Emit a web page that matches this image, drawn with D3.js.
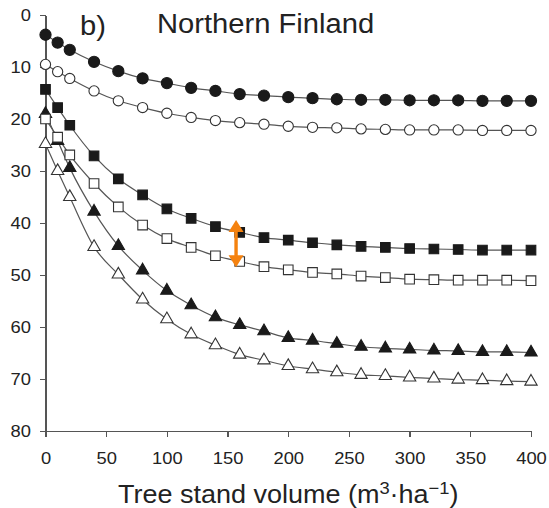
<!DOCTYPE html>
<html lang="en">
<head>
    <meta charset="UTF-8">
    <title>Northern Finland</title>
    <style>
        body {
            margin: 0;
            background: #fff;
            font-family: "Liberation Sans", Arial, sans-serif;
        }
        .axis path,
        .axis line {
            stroke: #555;
            stroke-width: 1.3;
            shape-rendering: crispEdges;
        }
        .axis text {
            fill: #222;
            font-size: 17px;
            font-family: "Liberation Sans", Arial, sans-serif;
        }
        .curve {
            fill: none;
            stroke: #555;
            stroke-width: 1.2;
        }
    </style>
</head>
<body>
    <svg id="chart" width="549" height="508"></svg>

    <script src="https://d3js.org/d3.v7.min.js"></script>
    <script>
        // tree stand volume (m3/ha)
        const volume = [0, 10, 20, 40, 60, 80, 100, 120, 140, 160, 180, 200, 220, 240, 260, 280, 300, 320, 340, 360, 380, 400];

        const filledCircle = [3.8, 5.3, 6.7, 9.0, 10.8, 12.2, 13.1, 14.0, 14.6, 15.2, 15.5, 15.8, 16.0, 16.2, 16.3, 16.3, 16.4, 16.4, 16.4, 16.5, 16.5, 16.5];
        const openCircle = [9.5, 10.9, 12.2, 14.6, 16.5, 17.8, 18.9, 19.7, 20.3, 20.7, 21.0, 21.4, 21.6, 21.7, 21.9, 22.0, 22.1, 22.1, 22.1, 22.2, 22.2, 22.2];
        const filledSquare = [14.3, 17.8, 21.2, 27.1, 31.5, 34.6, 37.3, 39.1, 40.7, 41.8, 42.8, 43.3, 43.8, 44.2, 44.5, 44.7, 44.9, 45.0, 45.1, 45.2, 45.2, 45.2];
        const openSquare = [20.0, 23.5, 26.9, 32.4, 36.9, 40.4, 43.0, 44.7, 46.3, 47.4, 48.4, 49.0, 49.5, 49.8, 50.2, 50.5, 50.8, 50.9, 51.0, 51.0, 51.0, 51.1];
        const filledTriangle = [19.0, 24.2, 29.4, 37.8, 44.4, 49.1, 53.0, 55.8, 58.1, 59.6, 60.8, 62.1, 62.6, 63.2, 63.8, 64.1, 64.3, 64.5, 64.6, 64.8, 64.8, 64.9];
        const openTriangle = [24.8, 30.0, 35.0, 44.6, 49.9, 54.7, 58.5, 61.4, 63.5, 65.3, 66.4, 67.5, 68.1, 68.7, 69.2, 69.4, 69.7, 69.9, 70.1, 70.2, 70.4, 70.5];

        const xTicks = [0, 50, 100, 150, 200, 250, 300, 350, 400];
        const yTicks = [0, 10, 20, 30, 40, 50, 60, 70, 80];

        // difference arrow between the two square series
        const arrowAt = [157];
        const arrowRange = [39.4, 48.5];

        const stretch = 1.08; // text in the figure is a bit wide

        const series = [
            { values: filledTriangle, shape: d3.symbolTriangle, size: 66, filled: true },
            { values: openTriangle, shape: d3.symbolTriangle, size: 66, filled: false },
            { values: filledSquare, shape: d3.symbolSquare, size: 92, filled: true },
            { values: openSquare, shape: d3.symbolSquare, size: 92, filled: false },
            { values: filledCircle, shape: d3.symbolCircle, size: 98, filled: true },
            { values: openCircle, shape: d3.symbolCircle, size: 82, filled: false },
        ];

        const svg = d3.select('#chart');

        const x = d3.scaleLinear().domain([0, 400]).range([45.5, 531]);
        const y = d3.scaleLinear().domain([0, 80]).range([15, 431]);

        // axes
        svg.append('g')
            .attr('class', 'axis')
            .attr('transform', `translate(0,${y(80)})`)
            .call(d3.axisBottom(x).tickValues(xTicks).tickSize(6).tickSizeOuter(0).tickPadding(15))
            .selectAll('text')
            .attr('transform', `scale(${stretch},1)`);

        svg.append('g')
            .attr('class', 'axis')
            .attr('transform', `translate(${x(0)},0)`)
            .call(d3.axisLeft(y).tickValues(yTicks).tickSize(6).tickSizeOuter(0).tickPadding(7.4))
            .selectAll('text')
            .attr('transform', `scale(${stretch},1)`);

        // lines
        const line = d3.line()
            .x((d, i) => x(volume[i]))
            .y(d => y(d))
            .curve(d3.curveMonotoneX);

        svg.selectAll('.curve')
            .data(series)
            .enter().append('path')
            .attr('class', 'curve')
            .attr('d', s => line(s.values));

        // markers
        series.forEach(s => {
            svg.append('g')
                .selectAll('path')
                .data(s.values)
                .enter().append('path')
                .attr('transform', (d, i) => `translate(${x(volume[i])},${y(d)})`)
                .attr('d', d3.symbol().type(s.shape).size(s.size))
                .attr('fill', s.filled ? '#1a1a1a' : '#fff')
                .attr('stroke', s.filled ? '#1a1a1a' : '#333')
                .attr('stroke-width', 1.1);
        });

        // orange double arrow
        const ax = x(arrowAt[0]);
        const ay0 = y(arrowRange[0]);
        const ay1 = y(arrowRange[1]);
        const head = 12;
        const arrow = svg.append('g').attr('fill', '#f5820f').attr('stroke', 'none');
        arrow.append('rect')
            .attr('x', ax - 1.7)
            .attr('y', ay0 + head - 1)
            .attr('width', 3.4)
            .attr('height', ay1 - ay0 - 2 * head + 2);
        arrow.append('path')
            .attr('d', `M${ax},${ay0} L${ax + 7.5},${ay0 + head} L${ax - 7.5},${ay0 + head} Z`);
        arrow.append('path')
            .attr('d', `M${ax},${ay1} L${ax + 7.5},${ay1 - head} L${ax - 7.5},${ay1 - head} Z`);

        // panel label and title
        svg.append('text')
            .attr('transform', `translate(80,35) scale(${stretch},1)`)
            .attr('fill', '#222')
            .style('font-size', '27px')
            .text('b)');

        svg.append('text')
            .attr('transform', `translate(157,33) scale(${stretch},1)`)
            .attr('fill', '#222')
            .style('font-size', '27px')
            .text('Northern Finland');

        // x axis title with superscripts
        const title = svg.append('text')
            .attr('transform', `translate(118,503) scale(${stretch},1)`)
            .attr('fill', '#222')
            .style('font-size', '25px');
        title.append('tspan').text('Tree stand volume (m');
        title.append('tspan').attr('dy', -9).style('font-size', '17px').text('3');
        title.append('tspan').attr('dy', 9).text('·ha');
        title.append('tspan').attr('dy', -9).style('font-size', '17px').text('−1');
        title.append('tspan').attr('dy', 9).text(')');
    </script>
</body>
</html>
